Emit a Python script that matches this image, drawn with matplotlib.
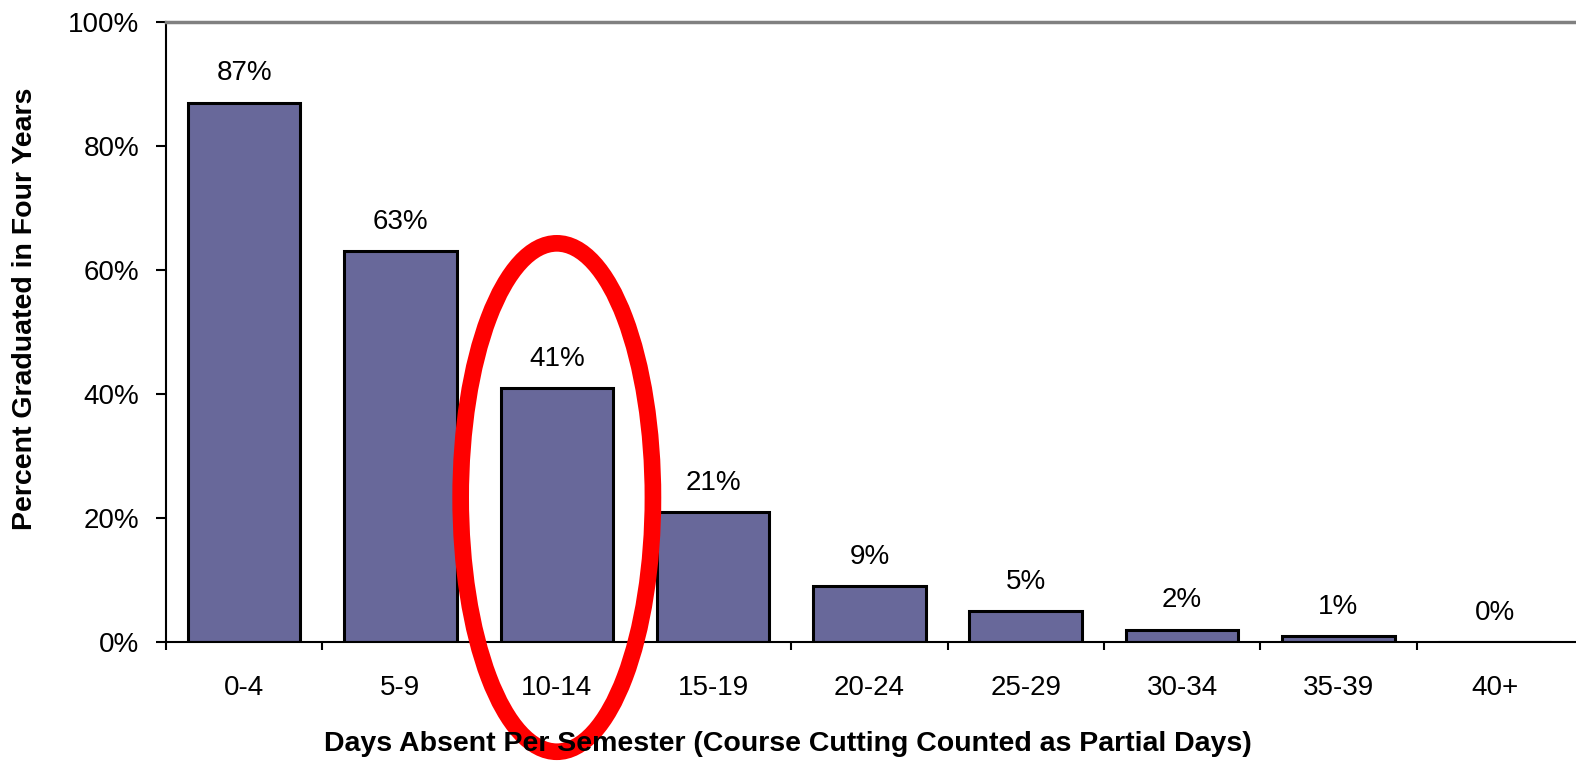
import matplotlib.pyplot as plt
from matplotlib.patches import Ellipse
from matplotlib.ticker import FixedLocator

categories = ["0-4", "5-9", "10-14", "15-19", "20-24", "25-29", "30-34", "35-39", "40+"]
percent = [87, 63, 41, 21, 9, 5, 2, 1, 0]
value_labels = ["87%", "63%", "41%", "21%", "9%", "5%", "2%", "1%", "0%"]
y_ticks = [0, 20, 40, 60, 80, 100]
highlight = "10-14"

plt.rcParams['font.family'] = ['Liberation Sans', 'DejaVu Sans']

fig = plt.figure(figsize=(15.76, 7.62), dpi=100)
ax = fig.add_axes([166 / 1576, 120 / 762, 1 - 166 / 1576, 620 / 762])

x = list(range(len(categories)))
ax.bar(x, percent, width=0.72, color="#68689A", edgecolor="black", linewidth=2.2, zorder=2)

for xi, v, lab in zip(x, percent, value_labels):
    ax.annotate(lab, (xi, v), xytext=(0, 16), textcoords="offset points",
                ha="center", va="baseline", fontsize=20)

ax.set_xlim(-0.5, 8.52)
ax.set_ylim(0, 100)

# category labels at centers, tick marks at slot boundaries
ax.set_xticks(x)
ax.set_xticklabels(categories, fontsize=20)
ax.xaxis.set_minor_locator(FixedLocator([i - 0.5 for i in range(len(categories))]))
ax.tick_params(axis="x", which="major", length=0, pad=24)
ax.tick_params(axis="x", which="minor", length=6, width=1.5, direction="out")

ax.set_yticks(y_ticks)
ax.set_yticklabels([f"{t}%" for t in y_ticks], fontsize=20)
ax.tick_params(axis="y", length=7, width=1.5, direction="out", pad=12)

ax.spines["right"].set_visible(False)
ax.spines["top"].set_color("#808080")
ax.spines["top"].set_linewidth(2.5)
ax.spines["left"].set_linewidth(1.5)
ax.spines["bottom"].set_linewidth(1.5)

fig.text(25 / 1576, 1 - 309 / 762, "Percent Graduated in Four Years", rotation=90,
         ha="center", va="center", fontsize=20.5, fontweight="bold")
fig.text(788 / 1576, 1 - 744 / 762,
         "Days Absent Per Semester (Course Cutting Counted as Partial Days)",
         ha="center", va="center", fontsize=20.5, fontweight="bold")

# red circle around the 10-14 bar
hx = categories.index(highlight)
ell = Ellipse((hx, 23.3), width=1.23, height=82, fill=False, edgecolor="#FF0000",
              linewidth=12, clip_on=False, zorder=5)
ax.add_patch(ell)

fig.savefig("out.png", dpi=100)
